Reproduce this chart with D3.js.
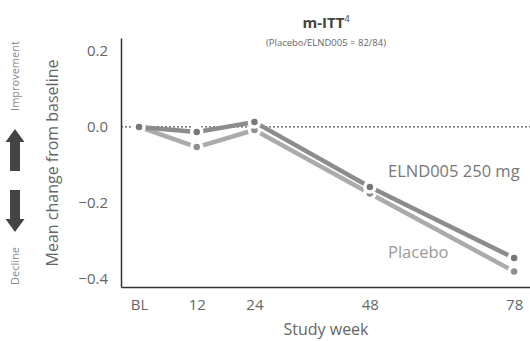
<!DOCTYPE html>
<html>
<head>
<meta charset="utf-8">
<script src="https://cdn.jsdelivr.net/npm/d3@7"></script>
<style>
  body { margin: 0; background: #fff; }
  svg { display: block; font-family: "Open Sans", sans-serif; }
</style>
</head>
<body>
<svg id="chart" width="530" height="341"></svg>
<script>
// values
var weeks = [0, 12, 24, 48, 78];
var weekLabels = ["BL", "12", "24", "48", "78"];
var yTicks = [0.2, 0.0, -0.2, -0.4];
var elnd005 = [0, -0.013, 0.013, -0.158, -0.345];
var placebo = [0, -0.053, -0.008, -0.175, -0.38];

function drawChart(){
  var svg = d3.select("#chart");
  var x = d3.scaleLinear().domain([-3.75, 81.3]).range([121, 530]);
  var y = d3.scaleLinear().domain([-0.421, 0.234]).range([287, 38]);

  var series = [
    {name: "Placebo", values: placebo, line: "#ababab", dot: "#8e8e8e"},
    {name: "ELND005 250 mg", values: elnd005, line: "#8c8c8c", dot: "#777"}
  ];

  // zero reference line
  svg.append("line")
    .attr("x1", x.range()[0]).attr("x2", x.range()[1])
    .attr("y1", y(0)).attr("y2", y(0))
    .attr("stroke", "#555").attr("stroke-width", 1.2)
    .attr("stroke-dasharray", "2,2");

  var line = d3.line().x(d => x(d.w)).y(d => y(d.v));
  series.forEach(s => {
    var pts = weeks.map((w, i) => ({w: w, v: s.values[i]}));
    svg.append("path")
      .datum(pts)
      .attr("d", line)
      .attr("fill", "none")
      .attr("stroke", s.line)
      .attr("stroke-width", 4.5);
    svg.append("g").selectAll("circle").data(pts).join("circle")
      .attr("cx", d => x(d.w))
      .attr("cy", d => y(d.v))
      .attr("r", 5)
      .attr("fill", s.dot)
      .attr("stroke", "#fff")
      .attr("stroke-width", 3.5);
  });

  // axes
  var yAxis = g => g
    .attr("transform", `translate(${x.range()[0]},0)`)
    .call(d3.axisLeft(y).tickValues(yTicks).tickFormat(d3.format(".1f")).tickSize(0).tickPadding(13))
    .call(g => g.select(".domain").attr("stroke", "#333").attr("stroke-width", 1.5))
    .call(g => g.selectAll(".tick text").attr("font-size", 15).attr("fill", "#666")
        .attr("font-family", "Open Sans, sans-serif"));
  var xAxis = g => g
    .attr("transform", `translate(0,${y.range()[0]})`)
    .call(d3.axisBottom(x).tickValues(weeks).tickFormat((d, i) => weekLabels[i]).tickSize(0).tickPadding(12))
    .call(g => g.select(".domain").attr("stroke", "#333").attr("stroke-width", 1.5))
    .call(g => g.selectAll(".tick text").attr("font-size", 15).attr("fill", "#666")
        .attr("font-family", "Open Sans, sans-serif"));
  svg.append("g").call(yAxis);
  svg.append("g").call(xAxis);

  // axis titles
  svg.append("text")
    .attr("transform", "translate(58,163) rotate(-90)")
    .attr("text-anchor", "middle")
    .attr("font-size", 16).attr("fill", "#666")
    .text("Mean change from baseline");
  svg.append("text")
    .attr("x", 326).attr("y", 335)
    .attr("text-anchor", "middle")
    .attr("font-size", 16).attr("fill", "#666")
    .text("Study week");

  // title
  var t = svg.append("text")
    .attr("x", 326).attr("y", 28)
    .attr("text-anchor", "middle")
    .attr("fill", "#444");
  t.append("tspan").attr("font-size", 15).attr("font-weight", "bold").text("m-ITT");
  t.append("tspan").attr("font-size", 9).attr("dy", -6).text("4");
  svg.append("text")
    .attr("x", 326).attr("y", 46)
    .attr("text-anchor", "middle")
    .attr("font-size", 9.5).attr("fill", "#666")
    .text("(Placebo/ELND005 = 82/84)");

  // series labels
  svg.append("text")
    .attr("x", 388).attr("y", 177)
    .attr("font-size", 16.5).attr("fill", "#777")
    .text("ELND005 250 mg");
  svg.append("text")
    .attr("x", 388).attr("y", 258)
    .attr("font-size", 16.5).attr("fill", "#9a9a9a")
    .text("Placebo");

  // improvement / decline side notes with arrows
  svg.append("text")
    .attr("transform", "translate(19,76) rotate(-90)")
    .attr("text-anchor", "middle")
    .attr("font-size", 11).attr("fill", "#888")
    .text("Improvement");
  svg.append("text")
    .attr("transform", "translate(19,266) rotate(-90)")
    .attr("text-anchor", "middle")
    .attr("font-size", 11).attr("fill", "#888")
    .text("Decline");
  var arrow = "M0,-21 L9.5,-8 L5,-8 L5,21 L-5,21 L-5,-8 L-9.5,-8 Z";
  svg.append("path").attr("d", arrow)
    .attr("transform", "translate(15,150)")
    .attr("fill", "#444");
  svg.append("path").attr("d", arrow)
    .attr("transform", "translate(15,211) rotate(180)")
    .attr("fill", "#444");
}

drawChart();
</script>
</body>
</html>
